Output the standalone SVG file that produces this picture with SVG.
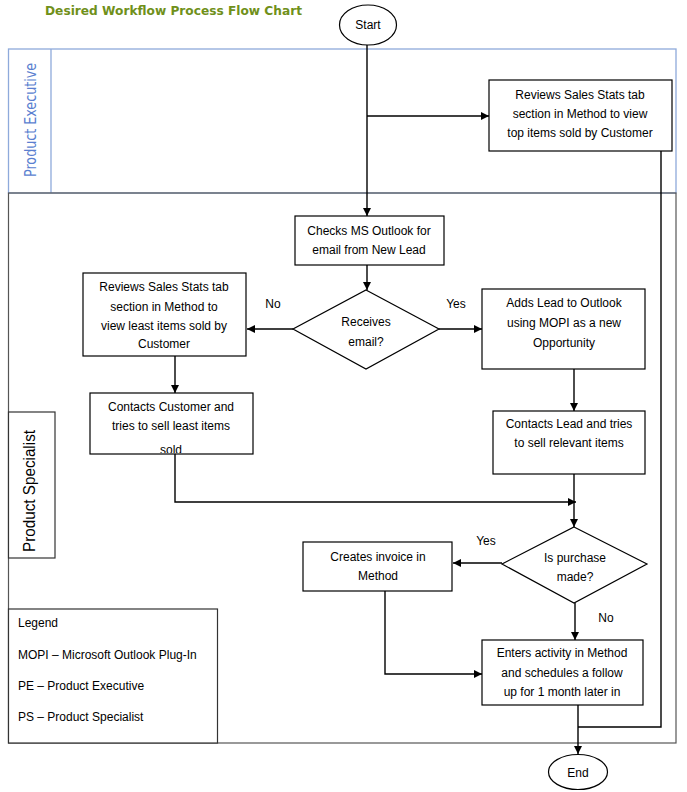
<svg xmlns="http://www.w3.org/2000/svg" width="687" height="792" viewBox="0 0 687 792">
<style>
.box{fill:#fff;stroke:#000;stroke-width:1.2}
.t{font-family:"Liberation Sans",Arial,sans-serif;font-size:12px;fill:#000;text-anchor:middle}
.tl{font-family:"Liberation Sans",Arial,sans-serif;font-size:12px;fill:#000}
.c{fill:none;stroke:#000;stroke-width:1.4}
.lbl{font-family:"Liberation Sans",Arial,sans-serif;font-size:12px;fill:#000;text-anchor:middle}
</style>
<defs>
<marker id="ah" markerWidth="8" markerHeight="8" refX="8" refY="4" orient="auto" markerUnits="userSpaceOnUse">
<path d="M0,0 L8,4 L0,8 z" fill="#000"/>
</marker>
<clipPath id="clipCust"><rect x="90" y="393" width="163" height="60"/></clipPath>
</defs>
<rect width="687" height="792" fill="#fff"/>

<text x="45" y="15" font-family="DejaVu Sans,Verdana,sans-serif" font-weight="bold" font-size="12.5" fill="#70901A" textLength="257" lengthAdjust="spacingAndGlyphs">Desired Workflow Process Flow Chart</text>

<g id="lane-pe">
<rect x="8.5" y="49" width="667.5" height="144" fill="none" stroke="#8EAADB" stroke-width="1.3"/>
<line x1="51" y1="49" x2="51" y2="193" stroke="#8EAADB" stroke-width="1.3"/>
<text transform="translate(36,120) rotate(-90)" font-family="DejaVu Sans,Verdana,sans-serif" font-size="16" fill="#5B7FD0" text-anchor="middle" textLength="114" lengthAdjust="spacingAndGlyphs">Product Executive</text>
</g>
<g id="lane-ps">
<rect x="8.5" y="193" width="667.5" height="550" fill="none" stroke="#555" stroke-width="1.2"/>
<rect x="8.5" y="412" width="46.5" height="146" fill="#fff" stroke="#333" stroke-width="1.2"/>
<text transform="translate(35,491) rotate(-90)" font-family="Liberation Sans,Arial,sans-serif" font-size="16" fill="#000" text-anchor="middle" textLength="122" lengthAdjust="spacingAndGlyphs">Product Specialist</text>
</g>

<g id="connectors">
<path class="c" d="M367,45 V216" marker-end="url(#ah)"/>
<path class="c" d="M367,116 H489" marker-end="url(#ah)"/>
<path class="c" d="M367,265 V290" marker-end="url(#ah)"/>
<path class="c" d="M293,329 H247" marker-end="url(#ah)"/>
<path class="c" d="M439,329 H482" marker-end="url(#ah)"/>
<path class="c" d="M175,356 V393" marker-end="url(#ah)"/>
<path class="c" d="M574,369 V411" marker-end="url(#ah)"/>
<path class="c" d="M175,454 V502 H576" marker-end="url(#ah)"/>
<path class="c" d="M574,474 V527" marker-end="url(#ah)"/>
<path class="c" d="M502,563 H453" stroke-width="2" marker-end="url(#ah)"/>
<path class="c" d="M575,603 V640" marker-end="url(#ah)"/>
<path class="c" d="M385,591 V674 H482" marker-end="url(#ah)"/>
<path class="c" d="M661,151 V727 H578"/>
<path class="c" d="M578,705 V754" stroke-width="2" marker-end="url(#ah)"/>
<text class="lbl" x="273" y="308">No</text>
<text class="lbl" x="456" y="308">Yes</text>
<text class="lbl" x="486" y="545">Yes</text>
<text class="lbl" x="606" y="622">No</text>
</g>

<g id="start">
<ellipse cx="368" cy="25" rx="28.5" ry="20" fill="#fff" stroke="#000" stroke-width="1.2"/>
<text class="t" x="368" y="29">Start</text>
</g>
<g id="pe-review">
<rect class="box" x="489" y="80" width="183" height="71"/>
<text class="t" x="580" y="99">Reviews Sales Stats tab</text>
<text class="t" x="580" y="118">section in Method to view</text>
<text class="t" x="580" y="137">top items sold by Customer</text>
</g>
<g id="check-outlook">
<rect class="box" x="295" y="216" width="149" height="49"/>
<text class="t" x="369" y="235">Checks MS Outlook for</text>
<text class="t" x="369" y="254">email from New Lead</text>
</g>
<g id="receives-email">
<polygon points="366,290 439,329 366,369 293,329" fill="#fff" stroke="#000" stroke-width="1.2"/>
<text class="t" x="366" y="326">Receives</text>
<text class="t" x="366" y="346">email?</text>
</g>
<g id="review-least">
<rect class="box" x="83" y="273" width="163" height="83"/>
<text class="t" x="164" y="291">Reviews Sales Stats tab</text>
<text class="t" x="164" y="311">section in Method to</text>
<text class="t" x="164" y="330">view least items sold by</text>
<text class="t" x="164" y="348">Customer</text>
</g>
<g id="add-lead">
<rect class="box" x="482" y="289" width="163" height="80"/>
<text class="t" x="564" y="307">Adds Lead to Outlook</text>
<text class="t" x="564" y="327">using MOPI as a new</text>
<text class="t" x="564" y="347">Opportunity</text>
</g>
<g id="contact-customer">
<rect class="box" x="90" y="393" width="163" height="61"/>
<text class="t" x="171" y="411">Contacts Customer and</text>
<text class="t" x="171" y="430">tries to sell least items</text>
<text class="t" x="171" y="454" clip-path="url(#clipCust)">sold</text>
</g>
<g id="contact-lead">
<rect class="box" x="493" y="411" width="152" height="63"/>
<text class="t" x="569" y="428">Contacts Lead and tries</text>
<text class="t" x="569" y="447">to sell relevant items</text>
</g>
<g id="purchase-made">
<polygon points="574,527 647,564 574,603 502,564" fill="#fff" stroke="#000" stroke-width="1.2"/>
<text class="t" x="575" y="562">Is purchase</text>
<text class="t" x="575" y="581">made?</text>
</g>
<g id="create-invoice">
<rect class="box" x="303" y="542" width="149" height="49"/>
<text class="t" x="378" y="561">Creates invoice in</text>
<text class="t" x="378" y="580">Method</text>
</g>
<g id="enter-activity">
<rect class="box" x="482" y="640" width="161" height="65"/>
<text class="t" x="562" y="657">Enters activity in Method</text>
<text class="t" x="562" y="677">and schedules a follow</text>
<text class="t" x="562" y="696">up for 1 month later in</text>
</g>
<g id="end">
<ellipse cx="578" cy="772" rx="29.5" ry="17.5" fill="#fff" stroke="#000" stroke-width="1.2"/>
<text class="t" x="578" y="777">End</text>
</g>
<g id="legend">
<rect x="8.5" y="609" width="209" height="134" fill="#fff" stroke="#333" stroke-width="1.2"/>
<text class="tl" x="18" y="627">Legend</text>
<text class="tl" x="18" y="659">MOPI – Microsoft Outlook Plug-In</text>
<text class="tl" x="18" y="690">PE – Product Executive</text>
<text class="tl" x="18" y="721">PS – Product Specialist</text>
</g>
</svg>
